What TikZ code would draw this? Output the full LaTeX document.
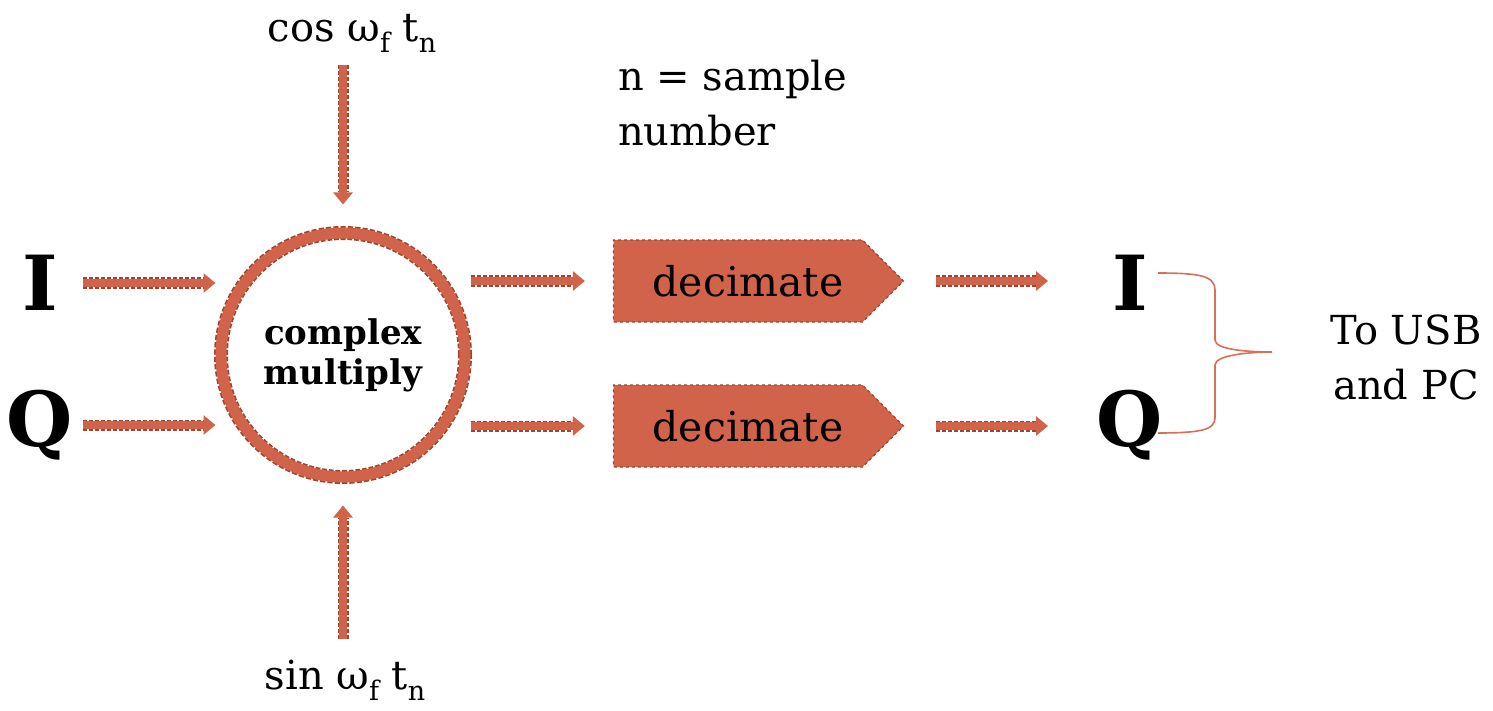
\documentclass[tikz,border=0pt]{standalone}
\usepackage{fontspec}
\setmainfont{DejaVu Serif}
\usetikzlibrary{arrows.meta,shapes.symbols,calc}
\definecolor{orng}{RGB}{208,99,74}
\definecolor{dark}{RGB}{160,68,48}
\definecolor{bracec}{RGB}{220,110,85}
\newcommand{\sbs}[1]{\raisebox{-0.28em}{\fontsize{27}{27}\selectfont #1}}
\begin{document}
\begin{tikzpicture}[x=1pt,y=-1pt,
  flowbg/.style={draw=dark, line width=11pt, dash pattern=on 4pt off 2pt},
  flow/.style={draw=orng, line width=7.5pt, -{Triangle[length=12pt,width=19pt]}},
  big/.style={font=\fontsize{76}{76}\selectfont\bfseries, inner sep=0pt},
  lbl/.style={font=\fontsize{40}{55}\selectfont, inner sep=0pt},
  dec/.style={signal, signal to=east, signal pointer angle=90, fill=orng, draw=dark, line width=1.2pt, dashed,
     minimum width=290pt, minimum height=82pt, inner sep=0pt, font=\fontsize{41}{41}\selectfont, text=black},
  mult/.style={circle, draw=orng, line width=11pt, minimum size=244pt, inner sep=0pt,
     preaction={draw=dark, line width=14pt, dash pattern=on 5pt off 2pt},
     font=\fontsize{34}{40}\selectfont\bfseries, align=center}]
\useasboundingbox (0,0) rectangle (1493,711);
\node[big] (Iin) at (40,283) {I};
\node[big] (Qin) at (40,425) {Q};
\node[mult] (circ) at (343,355) {complex\\multiply};
\node[lbl] (cos) at (352,33) {cos ω\sbs{f} t\sbs{n}};
\node[lbl] (sin) at (345,680) {sin ω\sbs{f} t\sbs{n}};
\node[dec] (d1) at (738,281) {\hspace*{20pt}decimate};
\node[dec] (d2) at (738,426) {\hspace*{20pt}decimate};
\node[big] (Iout) at (1130,283) {I};
\node[big] (Qout) at (1130,425) {Q};
\node[lbl, align=left, anchor=west] (note) at (618,103) {n = sample\\number};
\node[lbl, align=center] (usb) at (1406,357) {To USB\\and PC};
% arrows
\draw[flowbg, shorten <=25pt, shorten >=12pt] (Iin.east) -- (Iin.east -| circ.west);
\draw[flow, shorten <=25pt] (Iin.east) -- (Iin.east -| circ.west);
\draw[flowbg, shorten <=25pt, shorten >=12pt] (Iin.east |- Qin) -- (Qin -| circ.west);
\draw[flow, shorten <=25pt] (Iin.east |- Qin) -- (Qin -| circ.west);
\draw[flowbg, shorten <=13pt, shorten >=35pt] (cos.south -| circ.north) -- (circ.north);
\draw[flow, shorten <=13pt, shorten >=23pt] (cos.south -| circ.north) -- (circ.north);
\draw[flowbg, shorten <=20pt, shorten >=35pt] (sin.north -| circ.south) -- (circ.south);
\draw[flow, shorten <=20pt, shorten >=23pt] (sin.north -| circ.south) -- (circ.south);
\foreach \d in {d1,d2}{
  \draw[flowbg, shorten >=40pt] (circ.east |- \d.west) -- (\d.west);
  \draw[flow, shorten >=28pt] (circ.east |- \d.west) -- (\d.west);
}
\draw[flowbg, shorten <=32pt, shorten >=76pt] (d1.east) -- (d1.east -| Iout.west);
\draw[flow, shorten <=32pt, shorten >=64pt] (d1.east) -- (d1.east -| Iout.west);
\draw[flowbg, shorten <=32pt, shorten >=76pt] (d2.east) -- (d2.east -| Iout.west);
\draw[flow, shorten <=32pt, shorten >=64pt] (d2.east) -- (d2.east -| Iout.west);
% brace
\draw[bracec, line width=1.6pt]
  (1158,273) .. controls (1200,273) and (1215,276) .. (1215,290) -- (1215,340)
  .. controls (1215,350) and (1250,352) .. (1272,352)
  .. controls (1250,352) and (1215,355) .. (1215,365) -- (1215,418)
  .. controls (1215,430) and (1200,433) .. (1158,433);
\end{tikzpicture}
\end{document}
